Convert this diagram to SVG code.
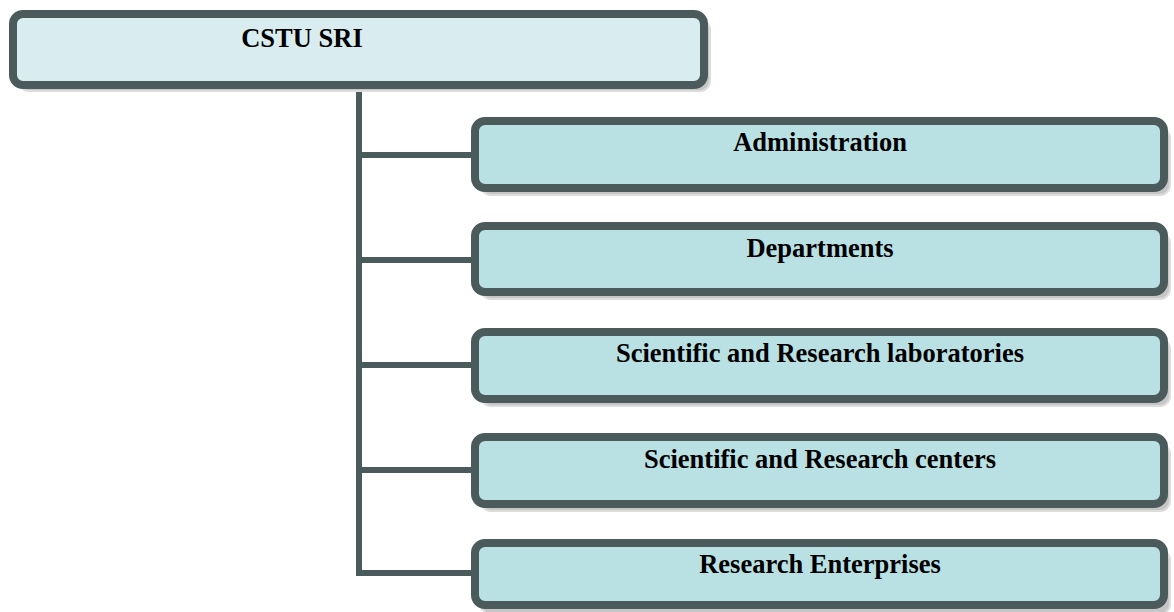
<svg xmlns="http://www.w3.org/2000/svg" width="1174" height="612" viewBox="0 0 1174 612">
  <style>
    .shadow { fill: #c6c6c6; stroke: #dcdcdc; stroke-width: 2; }
    .box { stroke: #4b5b5c; stroke-width: 8; }
    .root { fill: #d9edf0; }
    .child { fill: #b9e0e3; }
    .label { font-family: "Liberation Serif", "Times New Roman", serif; font-weight: bold; font-size: 26.5px; fill: #000; text-anchor: middle; }
    .wire { stroke: #4b5b5c; stroke-width: 6; fill: none; }
  </style>

  <!-- connectors: trunk from the root and one branch per unit -->
  <g id="connectors">
    <path class="wire" d="M359 89 V573 H475"/>
    <path class="wire" d="M359 155 H475"/>
    <path class="wire" d="M359 260 H475"/>
    <path class="wire" d="M359 365 H475"/>
    <path class="wire" d="M359 470 H475"/>
  </g>

  <g id="root">
    <rect class="shadow" x="19" y="20" width="691" height="71" rx="10"/>
    <rect class="box root" x="13" y="14" width="691" height="71" rx="10"/>
    <text class="label" x="302" y="47">CSTU SRI</text>
  </g>

  <g id="administration">
    <rect class="shadow" x="481" y="128" width="689" height="67" rx="10"/>
    <rect class="box child" x="475" y="121" width="689" height="67" rx="10"/>
    <text class="label" x="820" y="151">Administration</text>
  </g>

  <g id="departments">
    <rect class="shadow" x="481" y="233" width="689" height="66" rx="10"/>
    <rect class="box child" x="475" y="226" width="689" height="66" rx="10"/>
    <text class="label" x="820" y="257">Departments</text>
  </g>

  <g id="laboratories">
    <rect class="shadow" x="481" y="339" width="689" height="67" rx="10"/>
    <rect class="box child" x="475" y="332" width="689" height="67" rx="10"/>
    <text class="label" x="820" y="362">Scientific and Research laboratories</text>
  </g>

  <g id="centers">
    <rect class="shadow" x="481" y="444" width="689" height="67" rx="10"/>
    <rect class="box child" x="475" y="437" width="689" height="67" rx="10"/>
    <text class="label" x="820" y="468">Scientific and Research centers</text>
  </g>

  <g id="enterprises">
    <rect class="shadow" x="481" y="550" width="689" height="64" rx="10"/>
    <rect class="box child" x="475" y="543" width="689" height="62" rx="10"/>
    <text class="label" x="820" y="573">Research Enterprises</text>
  </g>
</svg>
